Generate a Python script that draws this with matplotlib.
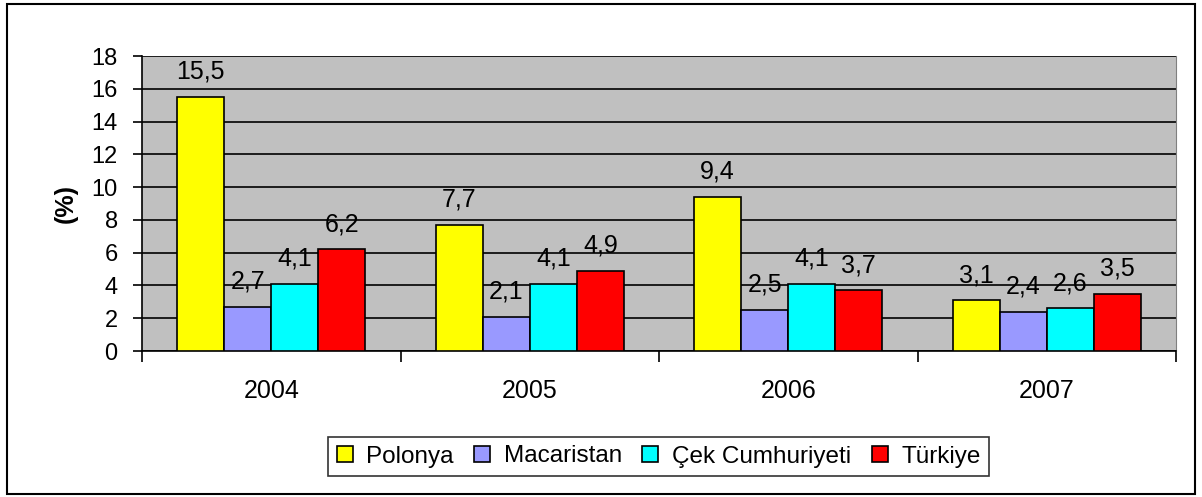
import numpy as np
import matplotlib.pyplot as plt
from matplotlib.patches import Rectangle

plt.rcParams['font.family'] = ['Liberation Sans', 'DejaVu Sans']

years = ['2004', '2005', '2006', '2007']
countries = ['Polonya', 'Macaristan', 'Çek Cumhuriyeti', 'Türkiye']
values = {
    'Polonya': [15.5, 7.7, 9.4, 3.1],
    'Macaristan': [2.7, 2.1, 2.5, 2.4],
    'Çek Cumhuriyeti': [4.1, 4.1, 4.1, 2.6],
    'Türkiye': [6.2, 4.9, 3.7, 3.5],
}
colors = ['#FFFF00', '#9999FF', '#00FFFF', '#FF0000']

fig = plt.figure(figsize=(12.02, 4.97), dpi=100)
ax = fig.add_axes([142 / 1202, 146 / 497, 1034 / 1202, 295 / 497])
ax.set_facecolor('#C0C0C0')

x = np.arange(len(years))
w = 0.182
for i, name in enumerate(countries):
    pos = x + (i - 1.5) * w
    bars = ax.bar(pos, values[name], w, color=colors[i], edgecolor='black',
                  linewidth=1.2, label=name, zorder=3)
    for b, v in zip(bars, values[name]):
        ax.annotate(f'{v:.1f}'.replace('.', ','),
                    (b.get_x() + b.get_width() / 2, b.get_height()),
                    xytext=(0, 13), textcoords='offset points',
                    ha='center', va='baseline', fontsize=18, zorder=4)

ax.set_xlim(-0.5, 3.5)
ax.set_ylim(0, 18)
ax.set_yticks(np.arange(0, 19, 2))
ax.yaxis.grid(True, color='black', linewidth=1.2, zorder=1)
ax.set_axisbelow(True)

ax.set_xticks(x)
ax.set_xticklabels(years)
ax.set_xticks(np.arange(-0.5, 4, 1), minor=True)
ax.tick_params(axis='x', which='major', length=0, pad=20, labelsize=18)
ax.tick_params(axis='x', which='minor', length=8, width=1.2, direction='out')
ax.tick_params(axis='y', length=6.5, width=1.2, direction='out', pad=11,
               labelsize=17)

ax.spines['top'].set_visible(False)
ax.spines['right'].set_color('#808080')
ax.spines['left'].set_linewidth(1.2)
ax.spines['bottom'].set_linewidth(1.2)

ax.set_ylabel('(%)', fontsize=18, fontweight='bold', labelpad=10)

leg = fig.legend(loc='center', bbox_to_anchor=(658.5 / 1202, 1 - 456.5 / 497),
                 ncol=4, fontsize=17.5, frameon=True, fancybox=False,
                 handlelength=0.66, handleheight=0.62, handletextpad=0.55,
                 columnspacing=0.85, borderpad=0.35)
leg.get_frame().set_edgecolor('black')
leg.get_frame().set_linewidth(1.2)

fig.add_artist(Rectangle((7 / 1202, 3 / 497), 1188 / 1202, 490 / 497,
                         transform=fig.transFigure, fill=False,
                         edgecolor='black', linewidth=1.5))

fig.savefig('out.png', dpi=100)
